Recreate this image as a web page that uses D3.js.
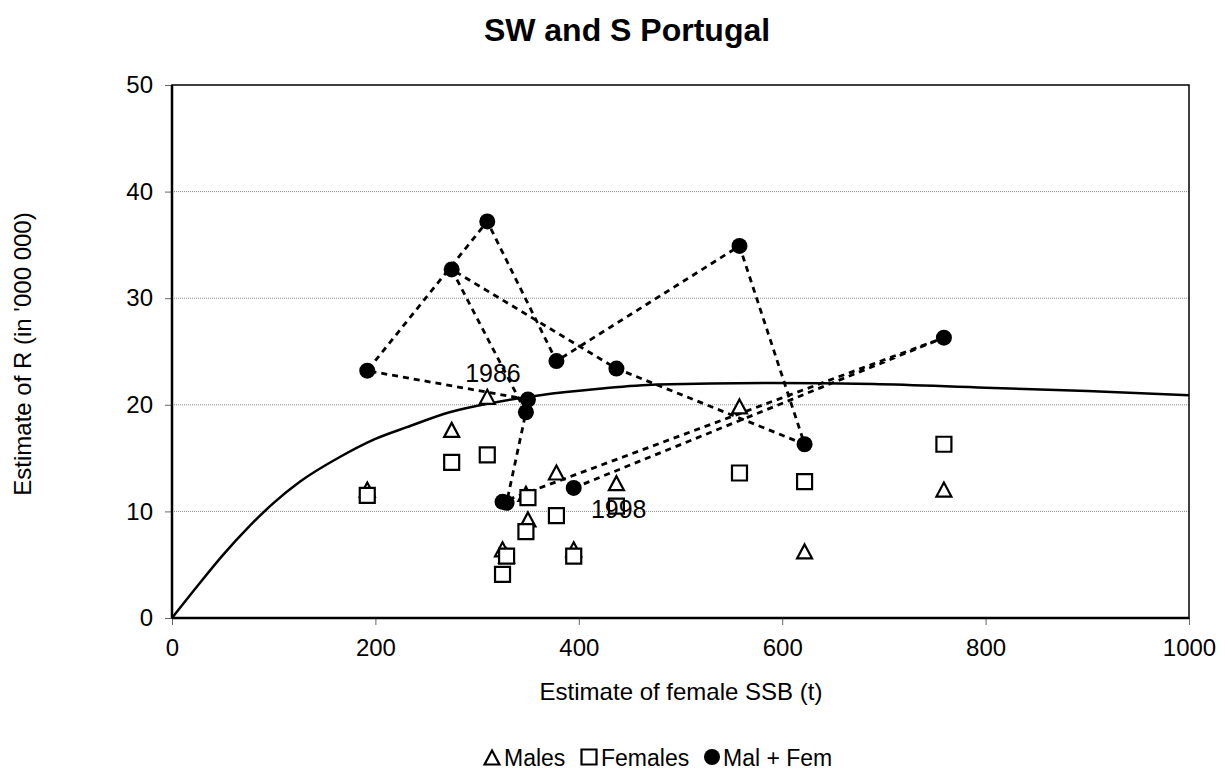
<!DOCTYPE html>
<html><head><meta charset="utf-8">
<script src="https://cdn.jsdelivr.net/npm/d3@7"></script>
<style>body{margin:0;background:#fff} svg{display:block} text{font-family:"Liberation Sans",Arial,sans-serif;fill:#000}</style>
</head><body><svg id="c" width="1225" height="772"></svg>
<script>
const years   = [1986,1987,1988,1989,1990,1991,1992,1993,1994,1995,1996,1997,1998];
const ssb     = [350,192,310,378,558,622,437,275,348,329,325,759,395];
const males   = [9.2,12.0,20.7,13.6,19.8,6.2,12.6,17.6,11.6,5.8,6.4,12.0,6.4];
const females = [11.3,11.5,15.3,9.6,13.6,12.8,10.5,14.6,8.1,5.8,4.1,16.3,5.8];
const malFem  = [20.5,23.2,37.2,24.1,34.9,16.3,23.4,32.7,19.3,10.8,10.9,26.3,12.2];
const curveSSB = [0,25,50,75,100,126,165,200,231,273,316,362,420,477,590,690,800,900,1000];
const curveR   = [0,3.0,5.9,8.5,10.8,12.8,15.1,16.8,17.9,19.3,20.2,20.9,21.5,21.9,22.05,21.95,21.6,21.3,20.9];
const xTicks = [0,200,400,600,800,1000];
const yTicks = [0,10,20,30,40,50];
const labelledYears = [1986,1998];
const seriesNames = ["Males","Females","Mal + Fem"];

const W=1225,H=772;
const L=172,R=1189,T=85,B=618;
const svg=d3.select("#c");
const x=d3.scaleLinear().domain([0,1000]).range([L,R]);
const y=d3.scaleLinear().domain([0,50]).range([B,T]);

// title
svg.append("text").attr("x",627).attr("y",41).attr("text-anchor","middle")
  .attr("font-size",32).attr("font-weight","bold").text("SW and S Portugal");

// gridlines
svg.append("g").selectAll("line").data(yTicks.filter(d=>d>0&&d<50)).join("line")
  .attr("x1",L).attr("x2",R).attr("y1",d=>y(d)).attr("y2",d=>y(d))
  .attr("stroke","#888").attr("stroke-width",1).attr("stroke-dasharray","1,1");

// axes
const xa=svg.append("g").attr("transform",`translate(0,${B})`)
  .call(d3.axisBottom(x).tickValues(xTicks).tickSize(7).tickPadding(14).tickFormat(d3.format("d")));
const ya=svg.append("g").attr("transform",`translate(${L},0)`)
  .call(d3.axisLeft(y).tickValues(yTicks).tickSize(7).tickPadding(12).tickFormat(d3.format("d")));
[xa,ya].forEach(a=>{
  a.select(".domain").remove();
  a.selectAll(".tick line").attr("stroke","#666").attr("stroke-width",1);
  a.selectAll(".tick text").attr("font-size",24).attr("font-family","Liberation Sans, Arial, sans-serif").attr("fill","#000");
});

// plot border
svg.append("rect").attr("x",L).attr("y",T).attr("width",R-L).attr("height",B-T)
  .attr("fill","none").attr("stroke","#000").attr("stroke-width",1.5);
svg.append("line").attr("x1",L).attr("x2",L).attr("y1",T).attr("y2",B).attr("stroke","#000").attr("stroke-width",2.5);
svg.append("line").attr("x1",L).attr("x2",R).attr("y1",B).attr("y2",B).attr("stroke","#000").attr("stroke-width",2.5);

// axis titles
svg.append("text").attr("x",681).attr("y",700).attr("text-anchor","middle").attr("font-size",24)
  .text("Estimate of female SSB (t)");
svg.append("text").attr("transform","translate(31,354) rotate(-90)").attr("text-anchor","middle").attr("font-size",24)
  .text("Estimate of R (in '000 000)");

// fitted curve
const cpts=curveSSB.map((s,i)=>[s,curveR[i]]);
svg.append("path").datum(cpts)
  .attr("d",d3.line().x(d=>x(d[0])).y(d=>y(d[1])).curve(d3.curveMonotoneX))
  .attr("fill","none").attr("stroke","#000").attr("stroke-width",2.5);

// dashed trajectory
const mf=ssb.map((s,i)=>({s,v:malFem[i],yr:years[i]}));
svg.append("path").datum(mf)
  .attr("d",d3.line().x(d=>x(d.s)).y(d=>y(d.v)))
  .attr("fill","none").attr("stroke","#000").attr("stroke-width",2.8).attr("stroke-dasharray","6,5");

const triPath=(cx,cy)=>`M${cx},${cy-7.5}L${cx+7.5},${cy+6.5}L${cx-7.5},${cy+6.5}Z`;
const sqPath=(cx,cy)=>`M${cx-7.5},${cy-7.5}h15v15h-15Z`;

// males
svg.append("g").selectAll("path").data(ssb.map((s,i)=>({s,v:males[i]}))).join("path")
  .attr("d",d=>triPath(x(d.s),y(d.v))).attr("fill","#fff").attr("stroke","#000").attr("stroke-width",2.2);
// females
svg.append("g").selectAll("path").data(ssb.map((s,i)=>({s,v:females[i]}))).join("path")
  .attr("d",d=>sqPath(x(d.s),y(d.v))).attr("fill","#fff").attr("stroke","#000").attr("stroke-width",2.2);
// mal + fem
svg.append("g").selectAll("circle").data(mf).join("circle")
  .attr("cx",d=>x(d.s)).attr("cy",d=>y(d.v)).attr("r",8).attr("fill","#000");

// year labels
const labOff={1986:[-35,-17],1998:[45,30]};
svg.append("g").selectAll("text").data(mf.filter(d=>labelledYears.includes(d.yr))).join("text")
  .attr("x",d=>x(d.s)+labOff[d.yr][0]).attr("y",d=>y(d.v)+labOff[d.yr][1])
  .attr("text-anchor","middle").attr("font-size",25).text(d=>d.yr);

// legend
const lg=svg.append("g");
const lgX=[485,582,704], lgY=757;
lg.append("path").attr("d",triPath(lgX[0]+7,lgY+1)).attr("fill","#fff").attr("stroke","#000").attr("stroke-width",2.2);
lg.append("path").attr("d",sqPath(lgX[1]+7,lgY)).attr("fill","#fff").attr("stroke","#000").attr("stroke-width",2.2);
lg.append("circle").attr("cx",lgX[2]+8).attr("cy",lgY).attr("r",8).attr("fill","#000");
seriesNames.forEach((n,i)=>{
  lg.append("text").attr("x",lgX[i]+19).attr("y",lgY+8.5).attr("font-size",23).text(n);
});
</script></body></html>
